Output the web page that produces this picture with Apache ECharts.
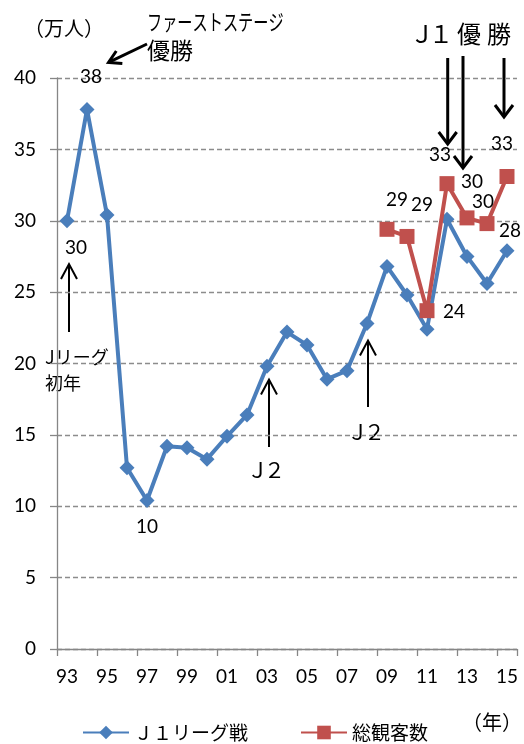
<!DOCTYPE html>
<html>
<head>
<meta charset="utf-8">
<script src="https://cdn.jsdelivr.net/npm/echarts@6/dist/echarts.min.js"></script>
<style>
  html, body { margin: 0; padding: 0; background: #fff; }
  #chart { width: 524px; height: 744px; }
</style>
</head>
<body>
<div id="chart"></div>
<script>
// Years (two-digit labels), 1993–2015
const years = ['93','94','95','96','97','98','99','00','01','02','03','04',
               '05','06','07','08','09','10','11','12','13','14','15'];

// J1 league-match attendance (10k people)
const j1League = [30.0, 37.8, 30.4, 12.7, 10.4, 14.2, 14.1, 13.3, 14.9, 16.4, 19.8, 22.2,
                  21.3, 18.9, 19.5, 22.8, 26.8, 24.8, 22.4, 30.1, 27.5, 25.6, 27.9];

// Total attendance (10k people), recorded from 2009
const totalAttendance = [null, null, null, null, null, null, null, null, null, null, null, null,
                         null, null, null, null, 29.4, 28.9, 23.7, 32.6, 30.2, 29.8, 33.1];

const seriesNames = ['Ｊ１リーグ戦', '総観客数'];
const yMin = 0, yMax = 40, yStep = 5;

// Value labels: which points get one, and where it sits relative to the point
const j1LabelOffsets = { 0: [9, 27], 1: [4, -33], 4: [0, 26], 22: [3, -20] };
const totalLabelOffsets = { 16: [10, -29], 17: [15, -32], 18: [27, 1], 19: [-7, -29],
                            20: [5, -36], 21: [-4, -22], 22: [-5, -33] };

const NUM_FONT = 'Lato, "Noto Sans", sans-serif';
const JP_FONT = '"Noto Sans CJK JP", "Noto Sans", sans-serif';
const BLUE = '#4a7ebb';
const RED = '#c0504d';

function withLabels(values, offsets) {
  return values.map((v, i) => {
    if (v == null || !(i in offsets)) return v;
    return {
      value: v,
      label: {
        show: true, position: 'inside', offset: offsets[i],
        formatter: p => String(Math.round(p.value)),
        color: '#000', fontSize: 19, fontFamily: NUM_FONT
      }
    };
  });
}

// Annotation arrow: straight shaft plus an open V head at (x2, y2)
function arrow(x1, y1, x2, y2, w, len, half) {
  const dx = x2 - x1, dy = y2 - y1, L = Math.hypot(dx, dy);
  const ux = dx / L, uy = dy / L;
  const bx = x2 - ux * len, by = y2 - uy * len;
  const px = -uy * half, py = ux * half;
  return [
    { type: 'line', silent: true,
      shape: { x1: x1, y1: y1, x2: x2 - ux * w * 0.6, y2: y2 - uy * w * 0.6 },
      style: { stroke: '#000', lineWidth: w } },
    { type: 'polyline', silent: true,
      shape: { points: [[bx + px, by + py], [x2, y2], [bx - px, by - py]] },
      style: { stroke: '#000', lineWidth: w, fill: null, lineJoin: 'miter' } }
  ];
}

function text(str, x, y, size, opts) {
  return Object.assign({
    type: 'text', x: x, y: y, silent: true,
    style: Object.assign({
      text: str, fill: '#000', font: size + 'px ' + JP_FONT,
      align: 'center', verticalAlign: 'middle'
    }, (opts && opts.style) || {})
  }, (opts && opts.el) || {});
}

const chart = echarts.init(document.getElementById('chart'), null, { renderer: 'canvas' });

const graphics = [].concat(
  text('（万人）', 64, 28, 20),
  text('ファーストステージ', 147, 22, 22, { style: { align: 'left' }, el: { scaleX: 0.69 } }),
  text('優勝', 147, 50, 23, { style: { align: 'left' } }),
  arrow(147, 44, 108.5, 62.5, 3, 12, 7),
  text('Ｊ', 422, 34, 24),
  text('１', 441, 34, 24),
  text('優', 469, 34, 24),
  text('勝', 499, 34, 24),
  arrow(447.7, 58, 447.7, 144, 3, 12, 9),
  arrow(463, 56, 463, 168, 3, 12, 9),
  arrow(504, 58, 504, 117, 3, 12, 9),
  arrow(69, 332, 69, 264, 2, 15, 8),
  text('Jリーグ', 45, 357, 18, { style: { align: 'left' } }),
  text('初年', 45, 383, 18, { style: { align: 'left' } }),
  arrow(269, 447, 269, 379.5, 2, 15, 8),
  text('Ｊ', 257.5, 470, 21),
  text('２', 274.5, 470, 21),
  arrow(368, 407, 368, 340.5, 2, 15, 8),
  text('Ｊ', 357.5, 432, 21),
  text('２', 374.5, 432, 21),
  text('（年）', 492, 722, 20)
);

chart.setOption({
  animation: false,
  backgroundColor: '#fff',
  grid: { left: 57, right: 7, top: 78, bottom: 95, containLabel: false, outerBoundsMode: 'none' },
  legend: {
    data: seriesNames,
    left: 77, top: 718,
    itemWidth: 46, itemHeight: 17, itemGap: 52,
    textStyle: { fontSize: 19, fontFamily: JP_FONT, color: '#000' }
  },
  xAxis: {
    type: 'category',
    data: years,
    boundaryGap: true,
    axisLine: { lineStyle: { color: '#868686', width: 1.3 } },
    axisTick: { show: true, interval: 1, length: 7, lineStyle: { color: '#868686', width: 1.3 } },
    axisLabel: { interval: 1, margin: 18, color: '#000', fontSize: 19, fontFamily: NUM_FONT },
    splitLine: { show: false }
  },
  yAxis: {
    type: 'value',
    min: yMin, max: yMax, interval: yStep,
    axisLine: { show: true, lineStyle: { color: '#868686', width: 1.3 } },
    axisTick: { show: true, length: 7, lineStyle: { color: '#868686', width: 1.3 } },
    axisLabel: { margin: 21, color: '#000', fontSize: 19, fontFamily: NUM_FONT },
    splitLine: { show: true, lineStyle: { color: '#8c8c8c', width: 1.3, type: [5, 3] } }
  },
  series: [
    {
      name: seriesNames[0], type: 'line',
      data: withLabels(j1League, j1LabelOffsets),
      symbol: 'diamond', symbolSize: 15, showAllSymbol: true,
      lineStyle: { color: BLUE, width: 4 },
      itemStyle: { color: BLUE },
      z: 2
    },
    {
      name: seriesNames[1], type: 'line',
      data: withLabels(totalAttendance, totalLabelOffsets),
      symbol: 'rect', symbolSize: 15, showAllSymbol: true,
      lineStyle: { color: RED, width: 4 },
      itemStyle: { color: RED },
      z: 3
    }
  ],
  graphic: graphics
});
</script>
</body>
</html>
